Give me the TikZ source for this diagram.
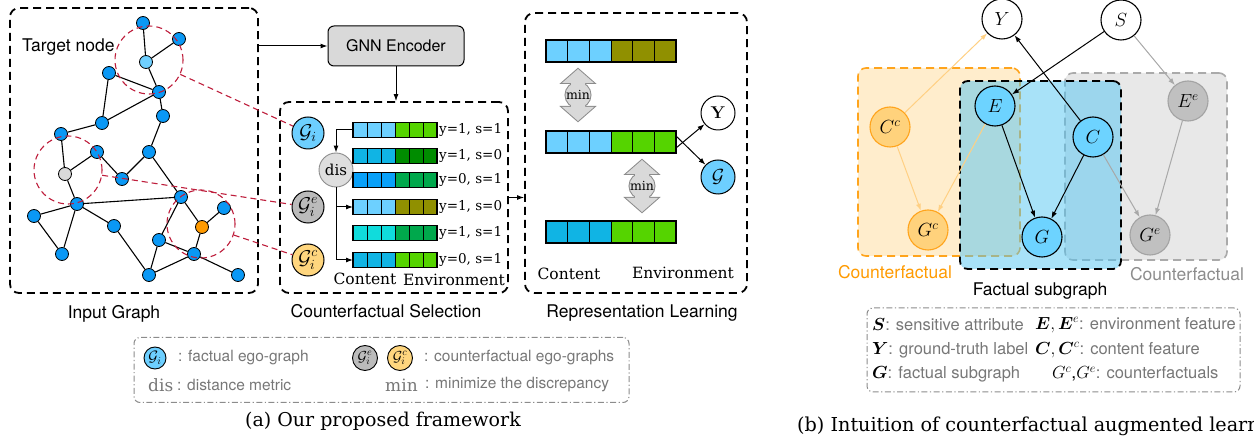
\RequirePackage{fix-cm}
\documentclass[tikz,border=0pt]{standalone}
\usepackage{amsmath}
\usepackage{bm}
\usepackage[no-math]{fontspec}
\setmainfont{TeX Gyre Heros}
\newfontfamily\schfont{DejaVu Serif}
\usetikzlibrary{arrows.meta}
\newcommand\fsz[1]{\fontsize{#1}{#1}\selectfont}
\definecolor{nblue}{HTML}{0A98F5}
\definecolor{tblue}{HTML}{6FD0FF}
\definecolor{ngray}{HTML}{D9D9D9}
\definecolor{norange}{HTML}{FF9A00}
\definecolor{redd}{HTML}{BE1E3C}
\definecolor{gifill}{HTML}{6DCFFF}
\definecolor{giefill}{HTML}{BBBBBB}
\definecolor{gicfill}{HTML}{FFD67E}
\definecolor{disfill}{HTML}{DEDEDE}
\definecolor{cA}{HTML}{6DD0FF}
\definecolor{cB}{HTML}{10B4E4}
\definecolor{cC}{HTML}{08A0F8}
\definecolor{cD}{HTML}{10DCDC}
\definecolor{eA}{HTML}{55D400}
\definecolor{eB}{HTML}{008C00}
\definecolor{eC}{HTML}{00A84C}
\definecolor{eD}{HTML}{909000}
\definecolor{mfill}{HTML}{D9D9D9}
\definecolor{mline}{HTML}{8C8C8C}
\definecolor{legtext}{HTML}{777777}
\definecolor{ofill}{HTML}{FFEDCC}
\definecolor{oline}{HTML}{FFA41C}
\definecolor{gfill}{HTML}{E8E8E8}
\definecolor{gline}{HTML}{AAAAAA}
\definecolor{bfill}{HTML}{52C5F2}
\definecolor{oarrow}{HTML}{FFD083}
\definecolor{garrow}{HTML}{A8A8A8}
\definecolor{ccfill}{HTML}{FFD27C}
\definecolor{eefill}{HTML}{C0C0C0}
\definecolor{eeline}{HTML}{A3A3A3}
\definecolor{efill}{HTML}{6DD3FF}
\definecolor{gtext}{HTML}{8C8C8C}

\newcommand\fvec[7]{%
  \foreach \k in {0,1,2}{\filldraw[fill=#6,draw=black,line width=0.9pt] ({#2+(\k-3)*#4},{#3-#5/2}) rectangle ++(#4,#5);}
  \foreach \k in {3,4,5}{\filldraw[fill=#7,draw=black,line width=0.9pt] ({#2+(\k-3)*#4},{#3-#5/2}) rectangle ++(#4,#5);}
  \node[draw=black,line width=1.4pt,minimum width={6*#4},minimum height={#5},inner sep=0pt,outer sep=0pt] (#1) at (#2,#3) {};
}
\newcommand\minarrow[3]{%
  \begin{scope}[shift={(#2,#3)}]
    \draw[mline,line width=2pt] (0,-26) -- (16,-12) -- (7,-12) -- (7,12) -- (16,12) -- (0,26) -- (-16,12) -- (-7,12) -- (-7,-12) -- (-16,-12) -- cycle;
    \draw[mline,line width=2pt] (0,0) circle (12.5);
    \fill[mfill] (0,-26) -- (16,-12) -- (7,-12) -- (7,12) -- (16,12) -- (0,26) -- (-16,12) -- (-7,12) -- (-7,-12) -- (-16,-12) -- cycle;
    \fill[mfill] (0,0) circle (12.5);
    \node[font=\schfont\fsz{12.5},inner sep=0pt] (#1) at (0,0) {min};
  \end{scope}}

\begin{document}
\begin{tikzpicture}[x=1pt,y=-1pt,
  gn/.style={circle,draw=black,line width=0.8pt,fill=nblue,minimum size=13,inner sep=0pt},
  gedge/.style={line width=1.1pt},
  bigbox/.style={draw=black,line width=1.8pt,dash pattern=on 8pt off 5pt,rounded corners=9pt,inner sep=0pt},
  redc/.style={draw=redd,line width=1.1pt,dash pattern=on 6pt off 4pt},
  arr/.style={-{Latex[length=7pt,width=5pt]},line width=1pt},
  egc/.style={circle,draw=black,line width=1pt,minimum size=32,inner sep=0pt,font=\fsz{20}},
  lab/.style={font=\fsz{17.5},inner sep=0pt},
  schs/.style={font=\schfont\fsz{15.5},inner sep=0pt},
  vlab/.style={font=\schfont\fsz{13.5},inner sep=0pt,anchor=west},
  cnode/.style={circle,line width=1.1pt,minimum size=40,inner sep=0pt,font=\fsz{19}},
  legt/.style={font=\fsz{15.5},text=legtext,inner sep=0pt,anchor=west},
  legb/.style={font=\fsz{16.5},text=legtext,inner sep=0pt,anchor=west},
]
\useasboundingbox (0,0) rectangle (1254,438);
\clip (0,0) rectangle (1254,438);

% ---------------- Input graph ----------------
\node[bigbox,minimum width=248,minimum height=285] (inbox) at (134,150.5) {};
\node[lab,anchor=west] (tnode) at (22,47) {Target node};
\foreach \n/\x/\y in {1/143/23,2/179/39,4/109/73,5/159/92,6/163/116,7/102/123,8/61/134,9/97/152,10/149/152,12/122/179,13/77/204,14/181/197,15/34/216,16/224/208,18/114/226,19/159/240,20/194/254,21/62/254,22/149/275,23/238/275}
  \node[gn] (n\n) at (\x,\y) {};
\node[gn,fill=tblue] (n3) at (146,62) {};
\node[gn,fill=ngray] (n11) at (65,174) {};
\node[gn,fill=norange] (n17) at (202,227) {};
\foreach \a/\b in {1/3,2/3,3/5,4/5,4/7,7/5,5/6,6/10,7/8,8/11,9/11,9/12,12/10,10/14,11/13,13/14,13/15,15/21,13/21,13/18,18/22,14/19,14/17,17/16,17/20,19/22,19/20,22/20,20/23}
  \draw[gedge] (n\a) -- (n\b);
\node[circle,redc,minimum size=68,inner sep=0pt] (c1) at (149,60) {};
\node[circle,redc,minimum size=68,inner sep=0pt] (c2) at (68,170) {};
\node[circle,redc,minimum size=68,inner sep=0pt] (c3) at (201,224) {};
\node[lab] (inlab) at (114,314) {Input Graph};

% ---------------- GNN encoder ----------------
\node[draw=black,line width=1pt,fill=ngray,rounded corners=6pt,minimum width=136,minimum height=40,font=\fsz{16}] (gnn) at (396,46) {GNN Encoder};

% ---------------- Counterfactual selection ----------------
\node[bigbox,minimum width=228,minimum height=191] (selbox) at (394,197.5) {};
\node[lab] (sellab) at (386,311) {Counterfactual Selection};
\node[egc,fill=gifill] (Gi) at (308,133) {$\mathcal{G}_i$};
\node[egc,fill=giefill] (Gie) at (308,207) {$\mathcal{G}_i^e$};
\node[egc,fill=gicfill] (Gic) at (308,260) {$\mathcal{G}_i^c$};
\node[circle,draw=mline,line width=0.9pt,fill=disfill,minimum size=34,inner sep=0pt,font=\schfont\fsz{15}] (dis) at (336,170) {dis};
\fvec{r1}{395}{130}{14}{15}{cA}{eA}
\fvec{r2}{395}{156}{14}{15}{cB}{eB}
\fvec{r3}{395}{180}{14}{15}{cC}{eC}
\fvec{r4}{395}{207}{14}{15}{cA}{eD}
\fvec{r5}{395}{233}{14}{15}{cD}{eC}
\fvec{r6}{395}{260}{14}{15}{cB}{eA}
\node[vlab] (l1) at ([xshift=2pt]r1.east) {y=1, s=1};
\node[vlab] (l2) at ([xshift=2pt]r2.east) {y=1, s=0};
\node[vlab] (l3) at ([xshift=2pt]r3.east) {y=0, s=1};
\node[vlab] (l4) at ([xshift=2pt]r4.east) {y=1, s=0};
\node[vlab] (l5) at ([xshift=2pt]r5.east) {y=1, s=1};
\node[vlab] (l6) at ([xshift=2pt]r6.east) {y=0, s=1};
\node[schs] (scont) at (365,279) {Content};
\node[schs] (senv) at (454,280) {Environment};
\draw[arr] (r1.west) -| (dis.north);
\draw[arr] (dis.south) |- (r4.west);
\draw[arr] (dis.south) |- (r6.west);

% red connectors
\draw[redc] (c1) -- (Gi);
\draw[redc] (c2) -- (Gie);
\draw[redc] (c3) -- (Gic);

% ---------------- Representation learning ----------------
\node[bigbox,minimum width=222,minimum height=280] (repbox) at (636,153) {};
\node[lab] (replab) at (642,313) {Representation Learning};
\fvec{ra}{611}{51}{21.67}{22}{cA}{eD}
\fvec{rb}{611}{142}{21.67}{22}{cA}{eA}
\fvec{rc}{611}{232}{21.67}{22}{cB}{eA}
\minarrow{m1}{578}{95}
\minarrow{m2}{642}{186}
\node[circle,draw=black,line width=1pt,fill=white,minimum size=34,inner sep=0pt,font=\fsz{17}] (Yb) at (718,113) {$\mathbf{Y}$};
\node[circle,draw=black,line width=1pt,fill=gifill,minimum size=34,inner sep=0pt,font=\fsz{19}] (Gb) at (718,177) {$\mathcal{G}$};
\draw[arr] ([yshift=-6pt]rb.east) -- (Yb);
\draw[arr] ([yshift=6pt]rb.east) -- (Gb);
\node[schs] (rcont) at (569,274) {Content};
\node[schs] (renv) at (683,273) {Environment};

% connectors between panels
\draw[arr] (gnn.west -| inbox.east) -- (gnn.west);
\draw[arr] (gnn.south) -- (gnn.south |- selbox.north);
\draw[arr] (selbox.east) -- (selbox.east -| repbox.west);

% ---------------- Legend (a) ----------------
\node[draw=mline,line width=1pt,dash pattern=on 6pt off 2.5pt on 1.2pt off 2.5pt,rounded corners=6pt,minimum width=495,minimum height=65,inner sep=0pt] (lega) at (381.5,370) {};
\node[circle,draw=black,line width=0.9pt,fill=gifill,minimum size=22,inner sep=0pt,font=\fsz{15}] (lgi) at (155,358) {$\mathcal{G}_i$};
\node[legt] (lt1) at (178,358) {: factual ego-graph};
\node[circle,draw=black,line width=0.9pt,fill=giefill,minimum size=25,inner sep=0pt,font=\fsz{14.5}] (lgie) at (365,358) {$\mathcal{G}_i^e$};
\node[circle,draw=black,line width=0.9pt,fill=gicfill,minimum size=25,inner sep=0pt,font=\fsz{14.5}] (lgic) at (400,358) {$\mathcal{G}_i^c$};
\node[legt] (lt2) at (424,358) {: counterfactual ego-graphs};
\node[font=\schfont\fsz{17},text=legtext,inner sep=0pt,anchor=west] (ldis) at (148,385) {dis};
\node[legt] (lt3) at (177,385) {: distance metric};
\node[font=\schfont\fsz{17},text=legtext,inner sep=0pt,anchor=west] (lmin) at (385,385) {min};
\node[legt] (lt4) at (425,385) {: minimize the discrepancy};
\node[font=\schfont\fsz{19},inner sep=0pt] (capa) at (383,421) {(a) Our proposed framework};

% ---------------- Right panel ----------------
\node[draw=oline,fill=ofill,line width=1.6pt,dash pattern=on 8pt off 5pt,rounded corners=8pt,minimum width=162,minimum height=188,inner sep=0pt] (obox) at (939,162) {};
\node[draw=gline,fill=gfill,line width=1.6pt,dash pattern=on 8pt off 5pt,rounded corners=8pt,minimum width=162,minimum height=187,inner sep=0pt] (gbox) at (1146,166.5) {};
\node[fill=bfill,fill opacity=0.5,rounded corners=8pt,minimum width=161,minimum height=188,inner sep=0pt] (bboxf) at (1040.5,175) {};
\node[draw=black,line width=1.8pt,dash pattern=on 8pt off 5pt,rounded corners=8pt,minimum width=161,minimum height=188,inner sep=0pt] (bbox) at (1040.5,175) {};

\node[cnode,draw=black,fill=white] (Y) at (1002,19) {$Y$};
\node[cnode,draw=black,fill=white] (S) at (1121,20) {$S$};
\node[cnode,draw=oline,fill=ccfill] (Cc) at (890,127) {$C^c$};
\node[cnode,draw=oline,fill=ccfill] (Gc) at (928,230) {$G^c$};
\node[cnode,draw=black,fill=efill] (E) at (995,106) {$E$};
\node[cnode,draw=black,fill=efill] (C) at (1093,137) {$C$};
\node[cnode,draw=black,fill=efill] (G) at (1042,237) {$G$};
\node[cnode,draw=eeline,fill=eefill] (Ee) at (1188,101) {$E^e$};
\node[cnode,draw=eeline,fill=eefill] (Ge) at (1150,235) {$G^e$};

\draw[arr,oarrow] (Cc) -- (Y);
\draw[arr,oarrow] (Cc) -- (Gc);
\draw[arr,oarrow] (E) -- (Gc);
\draw[arr] (E) -- (G);
\draw[arr] (C) -- (G);
\draw[arr] (C) -- (Y);
\draw[arr] (S) -- (E);
\draw[arr,garrow] (S) -- (Ee);
\draw[arr,garrow] (Ee) -- (Ge);
\draw[arr,garrow] (C) -- (Ge);

\node[lab,text=norange] (olab) at (895,272) {Counterfactual};
\node[lab,text=gtext] (glab) at (1187,274) {Counterfactual};
\node[lab] (flab) at (1040,291) {Factual subgraph};

% ---------------- Legend (b) ----------------
\node[draw=mline,line width=1pt,dash pattern=on 6pt off 2.5pt on 1.2pt off 2.5pt,rounded corners=6pt,minimum width=373,minimum height=84,inner sep=0pt] (legbx) at (1053.5,350) {};
\node[legb] (b1) at (872,325) {\fsz{17.5}\color{black}$\bm{S}$\fsz{16.5}\color{legtext}: sensitive attribute};
\node[legb] (b2) at (872,350) {\fsz{17.5}\color{black}$\bm{Y}$\fsz{16.5}\color{legtext}: ground-truth label};
\node[legb] (b3) at (872,374) {\fsz{17.5}\color{black}$\bm{G}$\fsz{16.5}\color{legtext}: factual subgraph};
\node[legb] (b4) at (1035,325) {\fsz{17.5}\color{black}$\bm{E},\bm{E}^e$\fsz{16.5}\color{legtext}: environment feature};
\node[legb] (b5) at (1035,350) {\fsz{17.5}\color{black}$\bm{C},\bm{C}^c$\fsz{16.5}\color{legtext}: content feature};
\node[legb] (b6) at (1052,374) {\fsz{17.5}\color{black}$G^c$,$G^e$\fsz{16.5}\color{legtext}: counterfactuals};
\node[font=\schfont\fsz{19.2},inner sep=0pt,anchor=west] (capb) at (797,426) {(b) Intuition of counterfactual augmented learning};
\end{tikzpicture}
\end{document}
